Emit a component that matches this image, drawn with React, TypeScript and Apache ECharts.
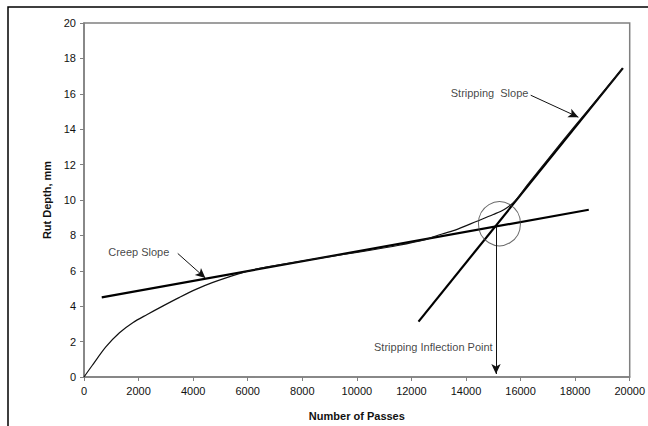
import React, { useEffect, useRef } from "react";
import * as echarts from "echarts";

// Rutting curve (Number of Passes, Rut Depth mm)
const curvePasses = [0, 300, 800, 1300, 1800, 2300, 2900, 3500, 4100, 4700, 5600, 6400, 7500, 8500, 9500, 10500, 11500, 12500, 13000, 13600, 14400, 15000, 15400, 15800, 16250, 17000, 18000, 19000, 19750];
const curveDepth = [0, 0.65, 1.7, 2.5, 3.08, 3.52, 4.02, 4.5, 4.95, 5.33, 5.8, 6.12, 6.42, 6.68, 6.92, 7.16, 7.43, 7.76, 8.02, 8.3, 8.8, 9.18, 9.46, 9.95, 10.85, 12.3, 14.2, 16.05, 17.45];

// Tangent lines
const creepSlope = [[650, 4.5], [18500, 9.45]];
const strippingSlope = [[12260, 3.13], [19750, 17.45]];

// Inflection point
const inflectionPasses = 15100;
const inflectionDepth = 8.5;
const circleCenter = [15226, 8.66];

// Annotations
const annotationTexts = ["Creep Slope", "Stripping  Slope", "Stripping Inflection Point"];
const annotationPos = [[2007, 7.04], [14864, 16.03], [12803, 1.68]];
const creepArrow = [[3436, 6.98], [4448, 5.59]];
const stripArrow = [[16371, 15.92], [18119, 14.68]];

const xTicks = { min: 0, max: 20000, interval: 2000 };
const yTicks = { min: 0, max: 20, interval: 2 };

export default function App() {
  const ref = useRef<HTMLDivElement>(null);
  useEffect(() => {
    if (!ref.current) return;
    const chart = echarts.init(ref.current, null, { renderer: "svg" });
    const font = "'Liberation Sans', Arial, sans-serif";
    const axisGray = "#808080";
    chart.setOption({
      animation: false,
      backgroundColor: "#fff",
      textStyle: { fontFamily: font },
      grid: {
        left: 84,
        right: 11,
        top: 23,
        bottom: 45,
        show: true,
        borderColor: axisGray,
        borderWidth: 1.5,
      },
      graphic: [
        {
          type: "rect",
          shape: { x: 8, y: 7, width: 720, height: 500 },
          style: { fill: "none", stroke: "#000", lineWidth: 1.5 },
          silent: true,
          z: 100,
        },
      ],
      xAxis: {
        type: "value",
        min: xTicks.min,
        max: xTicks.max,
        interval: xTicks.interval,
        name: "Number of Passes",
        nameLocation: "middle",
        nameGap: 33,
        nameTextStyle: { fontFamily: font, fontSize: 11, fontWeight: "bold", color: "#111" },
        axisLine: { show: true, lineStyle: { color: axisGray, width: 1.5 } },
        axisTick: { show: true, length: 4, lineStyle: { color: axisGray } },
        axisLabel: { fontFamily: font, fontSize: 11, color: "#111", margin: 8, formatter: (v: number) => String(v) },
        splitLine: { show: false },
      },
      yAxis: {
        type: "value",
        min: yTicks.min,
        max: yTicks.max,
        interval: yTicks.interval,
        name: "Rut Depth, mm",
        nameLocation: "middle",
        nameGap: 25,
        nameTextStyle: { fontFamily: font, fontSize: 11, fontWeight: "bold", color: "#111" },
        axisLine: { show: true, lineStyle: { color: axisGray, width: 1.5 } },
        axisTick: { show: true, length: 4, lineStyle: { color: axisGray } },
        axisLabel: { fontFamily: font, fontSize: 11, color: "#111", margin: 8 },
        splitLine: { show: false },
      },
      series: [
        {
          type: "line",
          name: "Rut Curve",
          data: curvePasses.map((p, i) => [p, curveDepth[i]]),
          smooth: 0.3,
          symbol: "none",
          lineStyle: { color: "#111", width: 1.2 },
          silent: true,
          z: 3,
        },
        {
          type: "line",
          name: "Creep Slope",
          data: creepSlope,
          symbol: "none",
          lineStyle: { color: "#000", width: 2.2 },
          silent: true,
          z: 2,
        },
        {
          type: "line",
          name: "Stripping Slope",
          data: strippingSlope,
          symbol: "none",
          lineStyle: { color: "#000", width: 2.2 },
          silent: true,
          z: 2,
          markLine: {
            silent: true,
            animation: false,
            symbol: ["none", "arrow"],
            symbolSize: [7, 10],
            label: { show: false },
            lineStyle: { color: "#111", width: 1, type: "solid" },
            data: [
              [{ coord: creepArrow[0] }, { coord: creepArrow[1] }],
              [{ coord: stripArrow[0] }, { coord: stripArrow[1] }],
              [{ coord: [inflectionPasses, inflectionDepth] }, { coord: [inflectionPasses, 0.17] }],
            ],
          },
        },
        {
          type: "scatter",
          name: "Inflection Circle",
          data: [circleCenter],
          symbol: "circle",
          symbolSize: [42, 44],
          itemStyle: { color: "rgba(0,0,0,0)", borderColor: "#444", borderWidth: 1 },
          silent: true,
          z: 4,
        },
        {
          type: "scatter",
          name: "Annotations",
          data: annotationPos.map((p, i) => ({ value: p, name: annotationTexts[i] })),
          symbolSize: 0,
          label: {
            show: true,
            position: "inside",
            formatter: (p: any) => p.name,
            fontFamily: font,
            fontSize: 11,
            color: "#111",
          },
          silent: true,
          z: 5,
        },
      ],
    });
    return () => chart.dispose();
  }, []);
  return (
    <div
      ref={ref}
      style={{ position: "fixed", left: 0, top: 0, width: 648, height: 426, background: "#fff" }}
    />
  );
}
